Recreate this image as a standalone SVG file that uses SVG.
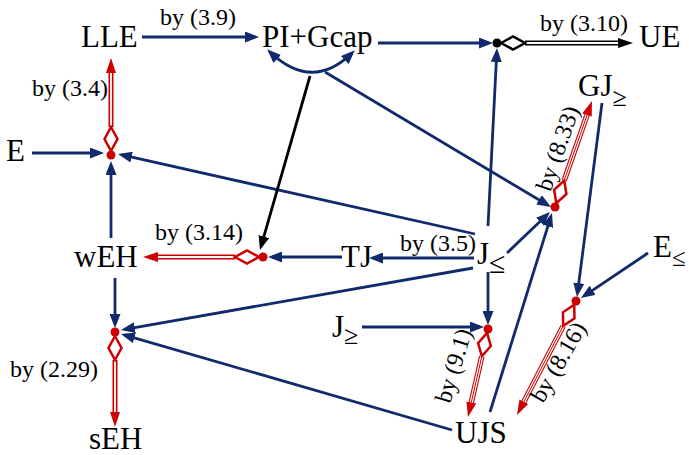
<svg xmlns="http://www.w3.org/2000/svg" width="689" height="455" viewBox="0 0 689 455">
<defs>
<style>
text{font-family:'Liberation Serif','DejaVu Serif','Times New Roman',serif;fill:#000}
.n{font-size:31px}
.l{font-size:24px}
.b{stroke:#102a6b;stroke-width:2.8;fill:none;marker-end:url(#ab)}
.arc{stroke:#102a6b;stroke-width:2.8;fill:none;marker-start:url(#abs);marker-end:url(#abs)}
.k{stroke:#000;stroke-width:2.8;fill:none;marker-end:url(#ak)}
.ro{stroke:#cc0000;stroke-width:5;fill:none;marker-end:url(#ar)}
.ri{stroke:#fff;stroke-width:1.8;fill:none}
.rt{stroke:#cc0000;stroke-width:5.5;fill:none;marker-end:url(#ar)}
.rti{stroke:#fff;stroke-width:3.3;fill:none}
.rtc{stroke:#cc0000;stroke-width:1;fill:none}
.ko{stroke:#000;stroke-width:5;fill:none;marker-end:url(#akb)}
.ki{stroke:#fff;stroke-width:1.8;fill:none}
.dr{fill:#fff;stroke:#cc0000;stroke-width:2.5}
.dk{fill:#fff;stroke:#000;stroke-width:2.5}
.dot{fill:#cc0000}
.dotk{fill:#000}
</style>
<marker id="ab" markerUnits="userSpaceOnUse" markerWidth="14" markerHeight="11" viewBox="0 0 14 11" refX="10" refY="5.5" orient="auto"><path d="M0,0 L14,5.5 L0,11 z" fill="#102a6b"/></marker>
<marker id="abs" markerUnits="userSpaceOnUse" markerWidth="14" markerHeight="11" viewBox="0 0 14 11" refX="10" refY="5.5" orient="auto-start-reverse"><path d="M0,0 L14,5.5 L0,11 z" fill="#102a6b"/></marker>
<marker id="ak" markerUnits="userSpaceOnUse" markerWidth="14" markerHeight="11" viewBox="0 0 14 11" refX="10" refY="5.5" orient="auto"><path d="M0,0 L14,5.5 L0,11 z" fill="#000"/></marker>
<marker id="ar" markerUnits="userSpaceOnUse" markerWidth="15" markerHeight="10" viewBox="0 0 15 10" refX="0" refY="5" orient="auto"><path d="M0,0 L15,5 L0,10 z" fill="#cc0000"/></marker>
<marker id="akb" markerUnits="userSpaceOnUse" markerWidth="15" markerHeight="10" viewBox="0 0 15 10" refX="0" refY="5" orient="auto"><path d="M0,0 L15,5 L0,10 z" fill="#000"/></marker>
<path id="dm" d="M0,0 L12,-6.5 L24,0 L12,6.5 Z"/>
</defs>
<rect width="689" height="455" fill="#fff"/>

<g id="connectors">
  <line class="b" x1="142" y1="37" x2="255" y2="37"/>
  <line class="b" x1="378" y1="43" x2="489" y2="43"/>
  <line class="b" x1="32" y1="153" x2="100" y2="153"/>
  <line class="b" x1="111" y1="238" x2="111" y2="165"/>
  <line class="b" x1="475" y1="234" x2="121.9" y2="154.9"/>
  <line class="b" x1="342" y1="257" x2="272" y2="257"/>
  <line class="b" x1="474" y1="258" x2="373" y2="258"/>
  <line class="b" x1="473" y1="268" x2="124.9" y2="329.3"/>
  <line class="b" x1="115" y1="278" x2="115" y2="324"/>
  <line class="b" x1="452" y1="430" x2="124.8" y2="335.1"/>
  <line class="b" x1="488" y1="226" x2="496.8" y2="52"/>
  <line class="b" x1="488" y1="272" x2="488" y2="321"/>
  <line class="b" x1="362" y1="327" x2="480" y2="327"/>
  <line class="b" x1="507" y1="253" x2="547.1" y2="214.8"/>
  <line class="b" x1="325" y1="72" x2="547.6" y2="205"/>
  <line class="b" x1="490" y1="412" x2="550.8" y2="216.8"/>
  <line class="b" x1="602" y1="103" x2="577.5" y2="293"/>
  <line class="b" x1="648" y1="253" x2="584.3" y2="295.8"/>
  <path class="arc" d="M270,52 Q312,92 352,53"/>
  <line class="k" x1="310" y1="76" x2="261.1" y2="246.2"/>

  <line class="ro" x1="111" y1="127" x2="111" y2="73"/>
  <line class="ri" x1="111" y1="127" x2="111" y2="73"/>
  <use href="#dm" class="dr" transform="translate(111,151) rotate(-90)"/>
  <circle class="dot" cx="111" cy="155" r="4.5"/>

  <line class="ro" x1="235" y1="257" x2="158" y2="257"/>
  <line class="ri" x1="235" y1="257" x2="158" y2="257"/>
  <use href="#dm" class="dr" transform="translate(259,257) rotate(180)"/>
  <circle class="dot" cx="263" cy="257" r="4.5"/>

  <line class="ro" x1="115" y1="360" x2="115" y2="412"/>
  <line class="ri" x1="115" y1="360" x2="115" y2="412"/>
  <use href="#dm" class="dr" transform="translate(115,336) rotate(90)"/>
  <circle class="dot" cx="115" cy="332" r="4.5"/>

  <line class="ko" x1="525" y1="43" x2="618" y2="43"/>
  <line class="ki" x1="525" y1="43" x2="618" y2="43"/>
  <use href="#dm" class="dk" transform="translate(501,43)"/>
  <circle class="dotk" cx="497" cy="43" r="4.5"/>

  <line class="rt" x1="564.2" y1="180.5" x2="587" y2="115.2"/>
  <line class="rti" x1="564.2" y1="180.5" x2="587" y2="115.2"/>
  <line class="rtc" x1="564.2" y1="180.5" x2="587" y2="115.2"/>
  <use href="#dm" class="dr" transform="translate(556.3,203.2) rotate(-70.7)"/>
  <circle class="dot" cx="555" cy="207" r="4.5"/>

  <line class="rt" x1="563.2" y1="326" x2="523.9" y2="401.7"/>
  <line class="rti" x1="563.2" y1="326" x2="523.9" y2="401.7"/>
  <line class="rtc" x1="563.2" y1="326" x2="523.9" y2="401.7"/>
  <use href="#dm" class="dr" transform="translate(574.2,304.6) rotate(117.3)"/>
  <circle class="dot" cx="576" cy="301" r="4.5"/>

  <line class="rt" x1="481.8" y1="356.3" x2="471.3" y2="402.4"/>
  <line class="rti" x1="481.8" y1="356.3" x2="471.3" y2="402.4"/>
  <line class="rtc" x1="481.8" y1="356.3" x2="471.3" y2="402.4"/>
  <use href="#dm" class="dr" transform="translate(487.1,332.9) rotate(102.7)"/>
  <circle class="dot" cx="488" cy="329" r="4.5"/>

  <text class="l" x="160" y="25">by (3.9)</text>
  <text class="l" x="540" y="31">by (3.10)</text>
  <text class="l" x="32" y="96">by (3.4)</text>
  <text class="l" x="155" y="240">by (3.14)</text>
  <text class="l" x="400" y="251">by (3.5)</text>
  <text class="l" x="10" y="377">by (2.29)</text>
  <text class="l" text-anchor="middle" transform="translate(565,151) rotate(-70.7)">by (8.33)</text>
  <text class="l" text-anchor="middle" transform="translate(461,368) rotate(-73)">by (9.1)</text>
  <text class="l" text-anchor="middle" transform="translate(565,366) rotate(-60)">by (8.16)</text>
</g>

<g id="LLE"><text class="n" x="81" y="47">LLE</text></g>
<g id="PIGcap"><text class="n" x="262" y="47">PI+Gcap</text></g>
<g id="UE"><text class="n" x="639" y="47">UE</text></g>
<g id="E"><text class="n" x="6" y="161">E</text></g>
<g id="wEH"><text class="n" x="74" y="267">wEH</text></g>
<g id="TJ"><text class="n" x="341" y="267">TJ</text></g>
<g id="Jle"><text class="n" x="477" y="264">J<tspan font-size="30" dy="9">≤</tspan></text></g>
<g id="Ele"><text class="n" x="653" y="257">E<tspan font-size="25" dy="9">≤</tspan></text></g>
<g id="GJge"><text class="n" x="578" y="96">GJ<tspan font-size="26" dy="10">≥</tspan></text></g>
<g id="Jge"><text class="n" x="332" y="337">J<tspan font-size="26" dy="7">≥</tspan></text></g>
<g id="UJS"><text class="n" x="455" y="443">UJS</text></g>
<g id="sEH"><text class="n" x="89" y="449">sEH</text></g>
</svg>
